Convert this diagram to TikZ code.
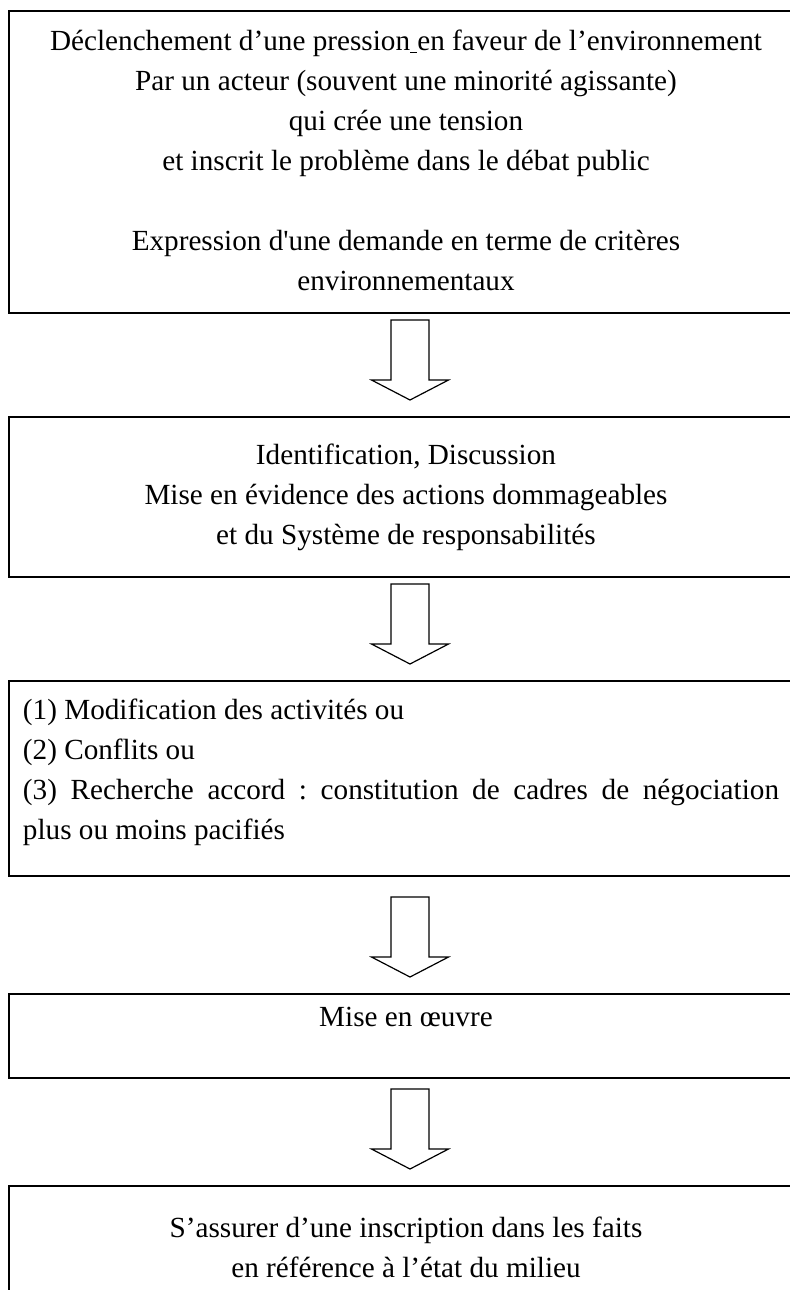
\documentclass[tikz,border=0pt]{standalone}
\usepackage{fontspec}
\setmainfont{Liberation Serif}
\usetikzlibrary{calc}
\tikzset{
  flowbox/.style={draw=black, line width=1pt, inner sep=0pt, anchor=north west, fill=white},
  blockarrow/.style={draw=black, line width=0.6pt, fill=white, line join=miter},
}
\newcommand{\boxcontent}[3]{\parbox[t][#1][t]{397pt}{\fontsize{14.6pt}{20pt}\selectfont\frenchspacing\vspace*{#2}#3}}
\newcommand{\flowarrow}[2]{%
  \coordinate (ftip) at ($(#2.north -| ax)+(0,-16)$);
  \draw[blockarrow] ($(ftip)+(-19,-80)$) -- ($(ftip)+(-19,-20)$) -- ($(ftip)+(-38.5,-20)$) -- (ftip)
     -- ($(ftip)+(38.5,-20)$) -- ($(ftip)+(19,-20)$) -- ($(ftip)+(19,-80)$) -- cycle;}
\begin{document}
\begin{tikzpicture}[x=0.5pt,y=-0.5pt]
\fill[white] (0,0) rectangle (790,1290);
\clip (0,0) rectangle (790,1290);
\coordinate (ax) at (410,0);
\node[flowbox] (b1) at (8,10) {\boxcontent{151pt}{5.5pt}{\centering
\strut Déclenchement d’une pression\underline{\hspace{0.25em}}en faveur de l’environnement\\
\strut Par un acteur (souvent une minorité agissante)\\
\strut qui crée une tension\\
\strut et inscrit le problème dans le débat public\\
\strut\\
\strut Expression d\textquotesingle une demande en terme de critères\\
\strut environnementaux\par}};
\node[flowbox] (b2) at (8,416) {\boxcontent{80pt}{9.5pt}{\centering
\strut Identification, Discussion\\
\strut Mise en évidence des actions dommageables\\
\strut et du Système de responsabilités\par}};
\node[flowbox] (b3) at (8,680) {\boxcontent{97.5pt}{5pt}{\raggedright\leftskip=7pt
\strut (1) Modification des activités ou\\
\strut (2) Conflits ou\\
\strut\makebox[378pt][s]{(3) Recherche accord : constitution de cadres de négociation}\\
\strut plus ou moins pacifiés\par}};
\node[flowbox] (b4) at (8,993) {\boxcontent{42pt}{2pt}{\centering
\strut Mise en œuvre\par}};
\node[flowbox] (b5) at (8,1185) {\boxcontent{85pt}{11.5pt}{\centering
\strut S’assurer d’une inscription dans les faits\\
\strut en référence à l’état du milieu\par}};
\flowarrow{b1}{b2}
\flowarrow{b2}{b3}
\flowarrow{b3}{b4}
\flowarrow{b4}{b5}
\end{tikzpicture}
\end{document}
